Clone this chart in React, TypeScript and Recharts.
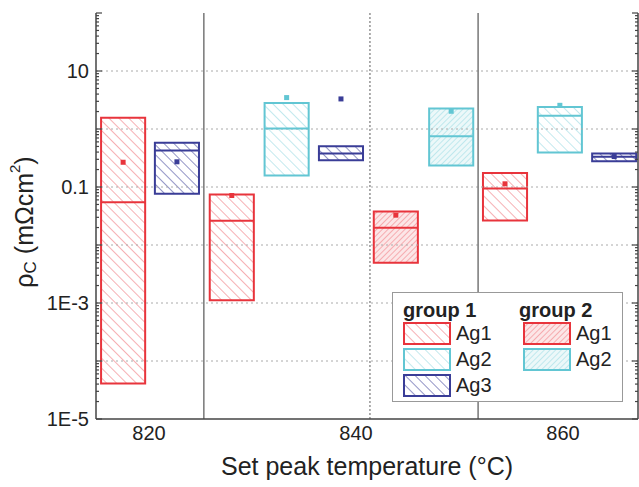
import {
  ComposedChart,
  XAxis,
  YAxis,
  ReferenceArea,
  ReferenceLine,
  Scatter,
  Cell,
  Legend,
} from "recharts";

// one entry per box, left to right
const positions = [817.5, 822.7, 828.0, 833.3, 838.55, 843.85, 849.2, 854.4, 859.7, 864.95];
const groups = [1, 1, 1, 1, 1, 2, 2, 1, 1, 1];
const metals = ["Ag1", "Ag3", "Ag1", "Ag2", "Ag3", "Ag1", "Ag2", "Ag1", "Ag2", "Ag3"];
const boxTop = [1.56, 0.577, 0.0741, 2.82, 0.504, 0.0378, 2.25, 0.175, 2.4, 0.377];
const boxBottom = [4.1e-5, 0.0763, 1.12e-3, 0.158, 0.289, 4.94e-3, 0.234, 0.0265, 0.393, 0.278];
const medians = [0.0547, 0.425, 0.0262, 1.02, 0.377, 0.0198, 0.75, 0.0942, 1.7, 0.331];
const means = [0.267, 0.272, 0.0713, 3.48, 3.3, 0.0327, 2.02, 0.1135, 2.56, 0.335];

const xTicks = [820, 840, 860];
const solidSeparators = [825.3, 851.8];
const dashedSeparators = [841.35];
const decades = [1e-5, 1e-4, 1e-3, 0.01, 0.1, 1, 10, 100];
const yLabelTicks = [1e-5, 1e-3, 0.1, 10];
const yLabelText = ["1E-5", "1E-3", "0.1", "10"];

const COLORS: Record<string, string> = { Ag1: "#e8343c", Ag2: "#62c6d3", Ag3: "#3a3d97" };
const HALF_W = 2.13;
const FONT = '"Liberation Sans", Arial, sans-serif';

const minorTicks: number[] = [];
for (const d of decades.slice(0, -1)) {
  for (let k = 2; k <= 9; k++) minorTicks.push(k * d);
}
const yTicks = [...decades, ...minorTicks].sort((a, b) => a - b);

const near = (a: number, b: number) => Math.abs(Math.log10(a) - Math.log10(b)) < 1e-6;

function Patterns() {
  return (
    <svg width={0} height={0} style={{ position: "absolute" }}>
      <defs>
        {["Ag1", "Ag2", "Ag3"].map((m) => (
          <pattern key={"g1" + m} id={`hatch-1-${m}`} patternUnits="userSpaceOnUse" width={7} height={7} patternTransform="rotate(-45)">
            <line x1={0} y1={0} x2={0} y2={7} stroke={COLORS[m]} strokeOpacity={m === "Ag3" ? 0.85 : 0.6} strokeWidth={1.3} />
          </pattern>
        ))}
        {["Ag1", "Ag2"].map((m) => (
          <pattern key={"g2" + m} id={`hatch-2-${m}`} patternUnits="userSpaceOnUse" width={4} height={4} patternTransform="rotate(45)">
            <rect width={4} height={4} fill={COLORS[m]} fillOpacity={0.12} />
            <line x1={0} y1={0} x2={0} y2={4} stroke={COLORS[m]} strokeOpacity={0.65} strokeWidth={1} />
          </pattern>
        ))}
      </defs>
    </svg>
  );
}

function LeftTick({ x, y, payload }: any) {
  const v = payload.value;
  const major = decades.some((d) => near(d, v));
  const idx = yLabelTicks.findIndex((t) => near(t, v));
  return (
    <g>
      <line x1={x} x2={x + (major ? 6 : 3)} y1={y} y2={y} stroke="#444" strokeWidth={1.2} />
      {idx >= 0 && (
        <text x={x - 7} y={y} textAnchor="end" dominantBaseline="central" fontSize={20} fill="#222">
          {yLabelText[idx]}
        </text>
      )}
    </g>
  );
}

function RightTick({ x, y, payload }: any) {
  const major = decades.some((d) => near(d, payload.value));
  return <line x1={x} x2={x - (major ? 6 : 3)} y1={y} y2={y} stroke="#444" strokeWidth={1.2} />;
}

function YTitle() {
  return (
    <text x={24} y={222} transform="rotate(-90 24 222)" textAnchor="middle" dominantBaseline="central" fontSize={25} fill="#222">
      ρ<tspan fontSize={17} dy={6}>C</tspan>
      <tspan dy={-6}> (mΩcm</tspan>
      <tspan fontSize={15} dy={-10}>2</tspan>
      <tspan dy={10}>)</tspan>
    </text>
  );
}

function Swatch({ group, metal }: { group: number; metal: string }) {
  return (
    <svg width={48} height={23} style={{ display: "block" }}>
      <rect x={1} y={1} width={46} height={21} fill={`url(#hatch-${group}-${metal})`} stroke={COLORS[metal]} strokeWidth={2} />
    </svg>
  );
}

function LegendBox() {
  const rows1 = ["Ag1", "Ag2", "Ag3"];
  const rows2 = ["Ag1", "Ag2"];
  const top0 = 29;
  const step = 26;
  return (
    <div style={{ position: "relative", width: 231, height: 110, boxSizing: "border-box", border: "1px solid #999", background: "#fff", fontFamily: FONT, fontSize: 20, color: "#222" }}>
      <div style={{ position: "absolute", left: 10, top: 6, fontWeight: "bold", lineHeight: "22px" }}>group 1</div>
      <div style={{ position: "absolute", left: 126, top: 6, fontWeight: "bold", lineHeight: "22px" }}>group 2</div>
      {rows1.map((m, i) => (
        <div key={"a" + m} style={{ position: "absolute", left: 10, top: top0 + i * step, display: "flex", alignItems: "center", gap: 5 }}>
          <Swatch group={1} metal={m} />
          <span style={{ lineHeight: "23px" }}>{m}</span>
        </div>
      ))}
      {rows2.map((m, i) => (
        <div key={"b" + m} style={{ position: "absolute", left: 130, top: top0 + i * step, display: "flex", alignItems: "center", gap: 5 }}>
          <Swatch group={2} metal={m} />
          <span style={{ lineHeight: "23px" }}>{m}</span>
        </div>
      ))}
    </div>
  );
}

export default function App() {
  const meanData = positions.map((x, i) => ({ x, y: means[i] }));
  const axisLine = { stroke: "#444", strokeWidth: 1.5 };
  return (
    <div style={{ position: "absolute", left: 0, top: 0, fontFamily: FONT }}>
      <Patterns />
      <ComposedChart width={639} height={487} margin={{ top: 13, right: 0, bottom: 0, left: 0 }}>
        <XAxis
          dataKey="x"
          type="number"
          domain={[814.88, 867.25]}
          allowDataOverflow
          ticks={xTicks}
          interval={0}
          tickLine={false}
          tickSize={0}
          tickMargin={7}
          height={68}
          axisLine={axisLine}
          tick={{ fontSize: 20, fill: "#222" }}
          label={{ value: "Set peak temperature (°C)", position: "insideBottom", offset: 12, fontSize: 25, fill: "#222" }}
        />
        <XAxis xAxisId="top" orientation="top" type="number" domain={[814.88, 867.25]} allowDataOverflow tick={false} tickLine={false} height={0} axisLine={axisLine} />
        <YAxis
          dataKey="y"
          type="number"
          scale="log"
          domain={[1e-5, 100]}
          allowDataOverflow
          ticks={yTicks}
          interval={0}
          tickSize={0}
          tickMargin={0}
          tickLine={false}
          width={96}
          axisLine={axisLine}
          tick={LeftTick}
          label={{ content: YTitle }}
        />
        <YAxis
          yAxisId="r"
          orientation="right"
          type="number"
          scale="log"
          domain={[1e-5, 100]}
          allowDataOverflow
          ticks={yTicks}
          interval={0}
          tickSize={0}
          tickMargin={0}
          tickLine={false}
          width={1}
          axisLine={axisLine}
          tick={RightTick}
        />
        {decades.slice(1, -1).map((d) => (
          <ReferenceLine key={"g" + d} y={d} stroke="#aaa" strokeDasharray="2 3" strokeWidth={1} />
        ))}
        {solidSeparators.map((x) => (
          <ReferenceLine key={"s" + x} x={x} stroke="#777" strokeWidth={1.5} />
        ))}
        {dashedSeparators.map((x) => (
          <ReferenceLine key={"d" + x} x={x} stroke="#777" strokeDasharray="2 2" strokeWidth={1.2} />
        ))}
        {positions.map((x, i) => (
          <ReferenceArea
            key={"box" + i}
            x1={x - HALF_W}
            x2={x + HALF_W}
            y1={boxBottom[i]}
            y2={boxTop[i]}
            fill={`url(#hatch-${groups[i]}-${metals[i]})`}
            fillOpacity={1}
            stroke={COLORS[metals[i]]}
            strokeWidth={2}
          />
        ))}
        {positions.map((x, i) => (
          <ReferenceLine
            key={"med" + i}
            segment={[
              { x: x - HALF_W, y: medians[i] },
              { x: x + HALF_W, y: medians[i] },
            ]}
            stroke={COLORS[metals[i]]}
            strokeWidth={2}
          />
        ))}
        <Scatter
          data={meanData}
          isAnimationActive={false}
          shape={(p: any) => <rect x={p.cx - 2.5} y={p.cy - 2.5} width={5} height={5} fill={p.fill} />}
        >
          {meanData.map((_, i) => (
            <Cell key={"m" + i} fill={COLORS[metals[i]]} />
          ))}
        </Scatter>
        <Legend
          layout="vertical"
          align="center"
          verticalAlign="middle"
          content={() => <LegendBox />}
          wrapperStyle={{ left: 392, top: 292, width: 231, height: 110 }}
        />
      </ComposedChart>
    </div>
  );
}
